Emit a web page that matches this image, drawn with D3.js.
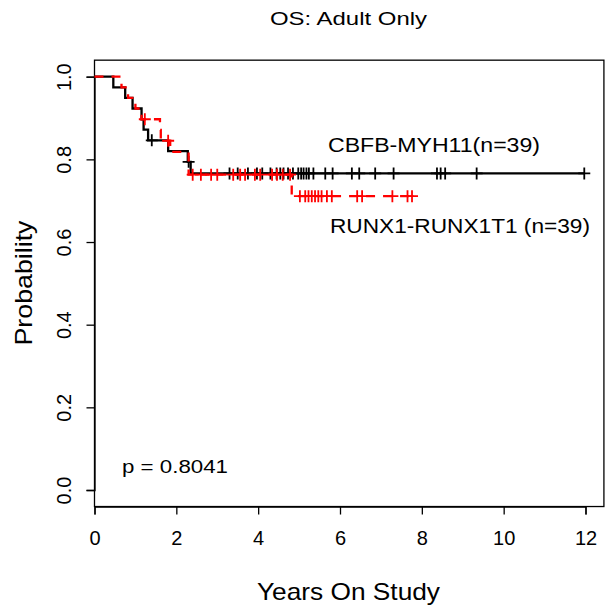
<!DOCTYPE html>
<html><head><meta charset="utf-8">
<script src="https://cdn.jsdelivr.net/npm/d3@7"></script>
<style>body{margin:0;background:#fff}svg{display:block}text{font-family:"Liberation Sans",Arial,sans-serif;fill:#000}</style>
</head><body><svg id="c" width="608" height="609"></svg>
<script>
// Kaplan-Meier step points (time in years, survival probability)
const blackTimes = [0, 0.46, 0.75, 0.93, 1.15, 1.20, 1.31, 1.80, 2.28, 2.35];
const blackSurv  = [1, 0.974, 0.949, 0.923, 0.897, 0.872, 0.846, 0.820, 0.794, 0.766];
const blackCensor = [1.40, 2.30, 3.3, 3.5, 3.75, 3.97, 4.1, 4.3, 4.45, 4.54, 4.62, 4.73, 4.85, 4.98, 5.05, 5.11, 5.18, 5.24, 5.35, 5.64, 5.82, 6.29, 6.47, 6.86, 7.31, 8.37, 8.46, 8.57, 9.34, 11.97];
const redTimes = [0, 0.66, 0.82, 1.0, 1.15, 1.6, 1.62, 1.85, 2.3, 4.82];
const redSurv  = [1, 0.974, 0.949, 0.923, 0.897, 0.871, 0.845, 0.818, 0.763, 0.711];
const redCensor = [1.23, 1.8, 2.4, 2.6, 2.85, 3.0, 3.39, 3.56, 3.68, 3.92, 4.05, 4.34, 4.46, 4.6, 4.78, 5.02, 5.15, 5.23, 5.31, 5.39, 5.47, 5.55, 5.68, 5.80, 6.42, 6.54, 7.28, 7.65, 7.76];
const xTicks = [0, 2, 4, 6, 8, 10, 12];
const yTicks = [0, 0.2, 0.4, 0.6, 0.8, 1.0];
const groupLabels = ["CBFB-MYH11(n=39)", "RUNX1-RUNX1T1 (n=39)"];
const titleText = "OS: Adult Only";
const xTitle = "Years On Study";
const yTitle = "Probability";
const pText = "p = 0.8041";

const svg = d3.select("#c");
const x = d3.scaleLinear().domain([0, 12]).range([94.5, 585.5]);
const y = d3.scaleLinear().domain([0, 1]).range([490, 76.7]);
const boxL = x(0), boxR = x(12.45), boxT = y(1.04), boxB = y(-0.04);

// box
svg.append("rect").attr("x", boxL).attr("y", boxT).attr("width", boxR - boxL).attr("height", boxB - boxT)
  .attr("fill", "none").attr("stroke", "#000").attr("stroke-width", 1.3);

// axes
const gx = svg.append("g").attr("transform", `translate(0,${boxB})`)
  .call(d3.axisBottom(x).tickValues(xTicks).tickSize(8).tickFormat(d3.format("d")));
const gy = svg.append("g").attr("transform", `translate(${boxL},0)`)
  .call(d3.axisLeft(y).tickValues(yTicks).tickSize(8).tickFormat(d3.format(".1f")));
[gx, gy].forEach(g => {
  g.select(".domain").attr("stroke-width", 1.3);
  g.selectAll(".tick line").attr("stroke-width", 1.3);
  g.selectAll("text").style("font-family", '"Liberation Sans",Arial,sans-serif').style("font-size", "20px").attr("fill", "#000");
});
gx.selectAll(".tick text").attr("y", 24).attr("dy", "0.71em");
gy.selectAll(".tick text").attr("x", null).attr("dy", null)
  .attr("text-anchor", "middle")
  .attr("transform", "translate(-24,0) rotate(-90)")
  .attr("y", 0);

// step curves
function drawCurve(times, surv, censor, color, dash) {
  const last = d3.max(censor);
  const pts = times.map((t, i) => [t, surv[i]]);
  if (last > times[times.length - 1]) pts.push([last, surv[surv.length - 1]]);
  const line = d3.line().x(d => x(d[0])).y(d => y(d[1])).curve(d3.curveStepAfter);
  svg.append("path").attr("d", line(pts)).attr("fill", "none").attr("stroke", color)
    .attr("stroke-width", 2.3).attr("stroke-dasharray", dash);
  const bis = d3.bisector(d => d).right;
  const s = 6;
  censor.forEach(t => {
    const v = surv[bis(times, t) - 1];
    const cx = x(t), cy = y(v);
    svg.append("path").attr("d", `M${cx - s},${cy}H${cx + s}M${cx},${cy - s}V${cy + s}`)
      .attr("stroke", color).attr("stroke-width", 1.8).attr("fill", "none");
  });
}
drawCurve(blackTimes, blackSurv, blackCensor, "#000", null);
drawCurve(redTimes, redSurv, redCensor, "#f00", "9,8");

// texts (widths matched to the reference with textLength)
function label(txt, xx, yy, size, len, anchor) {
  return svg.append("text").attr("x", xx).attr("y", yy).attr("text-anchor", anchor || "start")
    .style("font-size", size + "px").attr("textLength", len).attr("lengthAdjust", "spacingAndGlyphs").text(txt);
}
label(titleText, 348.5, 25, 19, 157, "middle");
label(xTitle, 348.5, 600, 24, 183, "middle");
svg.append("text").attr("transform", `translate(32,283) rotate(-90)`).attr("text-anchor", "middle")
  .style("font-size", "24px").attr("textLength", 125).attr("lengthAdjust", "spacingAndGlyphs").text(yTitle);
label(groupLabels[0], 328, 152, 20, 212);
label(groupLabels[1], 330, 233, 20, 260);
label(pText, 122, 473, 19, 106);
</script></body></html>
